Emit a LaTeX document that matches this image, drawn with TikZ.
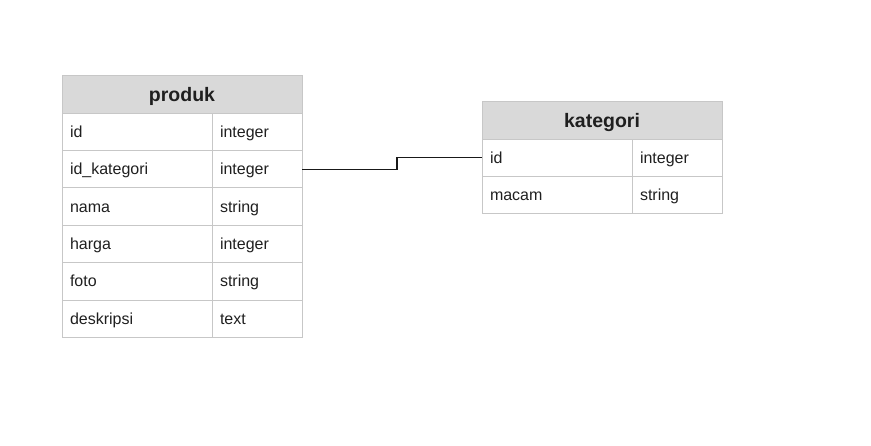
\documentclass[tikz,border=0pt]{standalone}
\usepackage{fontspec}
\setmainfont{Liberation Sans}
\usetikzlibrary{positioning}

\begin{document}
\begin{tikzpicture}[x=1pt, y=1pt]

\useasboundingbox (0, 0) rectangle (871, -445);

\def\NameWidth{150pt}
\def\TypeWidth{90pt}
\def\RowHeight{37.4pt}
\def\HeadHeight{38pt}
\def\Inset{8pt}

% Styles
\tikzstyle{cell} =
	[draw=black!22, line width=0.9pt, outer sep=0pt, inner xsep=\Inset, inner ysep=0pt,
	 minimum height=\RowHeight, align=left, text=black!88,
	 text height=14pt, text depth=3pt,
	 font=\fontsize{16}{19}\selectfont]

\tikzstyle{name cell} =
	[cell, text width=\NameWidth-2*\Inset]

\tikzstyle{type cell} =
	[cell, text width=\TypeWidth-2*\Inset]

\tikzstyle{table head} =
	[draw=black!22, line width=0.9pt, outer sep=0pt, fill=black!15, text=black!88,
	 minimum width=\NameWidth+\TypeWidth, minimum height=\HeadHeight,
	 text height=17pt, text depth=3pt,
	 font=\fontsize{19.5}{23}\selectfont\bfseries]

% Table produk

\node (Produk) at (182, -94) [table head] {produk};

\node (ProdukId) at (Produk.south west) [name cell, anchor=north west] {id};
\node (ProdukIdType) [type cell, right=0pt of ProdukId] {integer};
\node (ProdukIdKat) [name cell, below=0pt of ProdukId] {id\_kategori};
\node (ProdukIdKatType) [type cell, right=0pt of ProdukIdKat] {integer};
\node (ProdukNama) [name cell, below=0pt of ProdukIdKat] {nama};
\node (ProdukNamaType) [type cell, right=0pt of ProdukNama] {string};
\node (ProdukHarga) [name cell, below=0pt of ProdukNama] {harga};
\node (ProdukHargaType) [type cell, right=0pt of ProdukHarga] {integer};
\node (ProdukFoto) [name cell, below=0pt of ProdukHarga] {foto};
\node (ProdukFotoType) [type cell, right=0pt of ProdukFoto] {string};
\node (ProdukDesk) [name cell, below=0pt of ProdukFoto] {deskripsi};
\node (ProdukDeskType) [type cell, right=0pt of ProdukDesk] {text};

% Table kategori

\node (Kategori) at (602, -120) [table head] {kategori};

\node (KategoriId) at (Kategori.south west) [name cell, anchor=north west] {id};
\node (KategoriIdType) [type cell, right=0pt of KategoriId] {integer};
\node (KategoriMacam) [name cell, below=0pt of KategoriId] {macam};
\node (KategoriMacamType) [type cell, right=0pt of KategoriMacam] {string};

% Relation

\coordinate (Bend) at (397, -160);

\draw[line width=1.1pt, black!90]
	(ProdukIdKatType.east) -- (ProdukIdKatType.east -| Bend)
	|- (KategoriId.west);

\end{tikzpicture}
\end{document}
